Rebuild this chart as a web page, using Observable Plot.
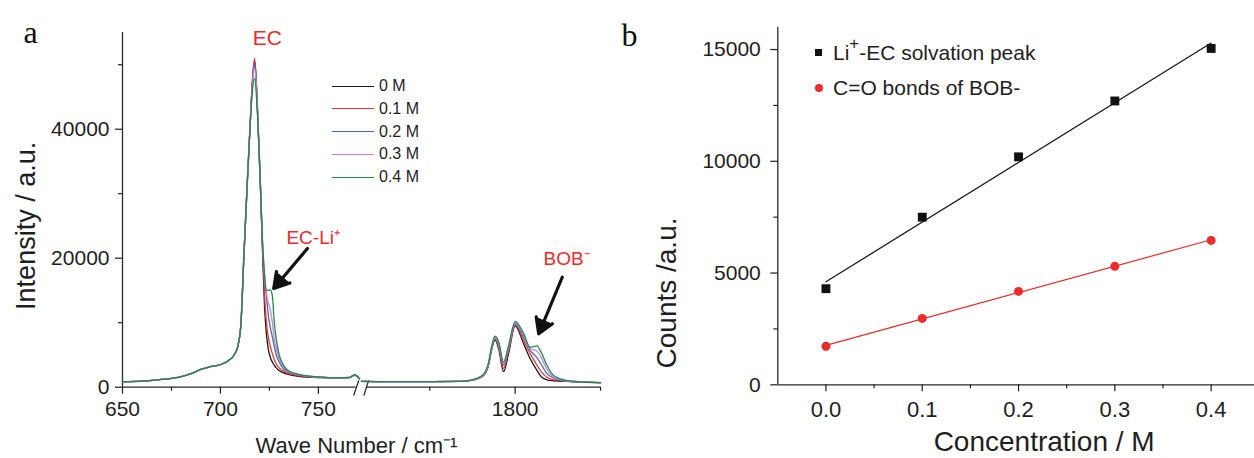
<!DOCTYPE html>
<html><head><meta charset="utf-8">
<script src="https://cdn.jsdelivr.net/npm/d3@7"></script>
<script src="https://cdn.jsdelivr.net/npm/@observablehq/plot@0.6"></script>
<style>
body{margin:0;background:#fff;}
#wrap{position:relative;width:1254px;height:458px;overflow:hidden;background:#fff;font-family:"Liberation Sans",Arial,sans-serif;color:#1e1e1e}
#wrap svg{position:absolute;left:0;top:0}
.row{position:absolute;display:flex;align-items:center;white-space:nowrap}
.row sup{font-size:0.8em;line-height:0;position:relative;top:-0.15em}
</style></head><body><div id="wrap"></div>
<script>
// ---------------- Panel a: Raman spectra ----------------
const wavenumbers = [650,660,670,680,685,690,695,700,704,707,709,710.5,712,713.6,715.3,716.5,717.5,718.7,720.4,721.5,722.5,723.5,724.5,725.5,726.5,727.5,728.5,730,732,735,740,750,760,766,768.5,771,
  1755,1770,1784,1787,1790.5,1792.2,1793.1,1794.1,1795.2,1796.6,1798,1800,1802.5,1804.4,1806.4,1807.8,1809.3,1811.3,1815,1820,1825];
const intensity0M = [850,950,1200,1650,2100,2750,3200,3500,4100,5000,6500,10000,20500,31000,41500,
  48000,50500,44500,31000,21000,12500,8200,5800,4600,3900,3400,3000,2600,2250,1950,1700,1500,1450,1500,1850,1300,
  900,850,900,1050,1700,3400,5800,7300,5900,2400,5000,9500,6700,4400,2600,1550,1150,1000,900,800,700];
const intensity01M = [850,950,1200,1650,2100,2750,3200,3500,4100,5000,6500,10000,20500,31000,41500,
  48500,51000,45000,31500,21500,14500,10000,7600,6300,5200,4300,3600,3000,2500,2100,1800,1550,1450,1500,1900,1300,
  900,850,900,1050,1750,3500,5900,7500,6200,2900,5400,9800,7200,5200,3400,2300,1550,1150,950,800,700];
const intensity02M = [850,950,1200,1650,2100,2750,3200,3500,4100,5000,6500,10000,20500,31000,41500,
  48000,50300,44700,31500,22000,17000,14000,11000,9200,7800,6300,5000,3900,2900,2300,1900,1550,1450,1500,1900,1300,
  900,850,900,1050,1800,3600,6000,7600,6500,3400,5800,9900,7700,5700,4600,3400,2100,1400,950,800,700];
const intensity03M = [850,950,1200,1650,2100,2750,3200,3500,4100,5000,6500,10000,20500,31000,41500,
  47500,49500,44300,31500,22500,17500,14500,13000,12000,10000,7500,6000,4400,3200,2400,1950,1550,1450,1500,1900,1300,
  900,850,900,1050,1800,3600,6100,7700,6700,3700,6000,10000,8000,6000,5600,4400,2800,1550,1000,800,700];
const intensity04M = [850,950,1200,1650,2100,2750,3200,3500,4100,5000,6500,10000,20500,31000,41500,
  46500,47800,43500,31500,22500,17500,15000,15000,15100,14200,10000,7500,5000,3500,2500,2000,1600,1450,1550,1950,1300,
  900,850,900,1100,1900,3800,6300,7900,7000,3900,6300,10200,8300,6200,6400,5200,3400,1800,1050,800,700];
const seriesNames = ["0 M","0.1 M","0.2 M","0.3 M","0.4 M"];
const seriesColors = ["#1a1a1a","#ee3535","#4867ba","#c486cf","#23894a"];
const seriesValues = [intensity0M,intensity01M,intensity02M,intensity03M,intensity04M];

// broken x axis: two segments
const segment1Domain = [650,771];
const segment2Domain = [1755,1825];
const xMajor1 = [650,700,750], xMinor1 = [675,725];
const xMajor2 = [1800], xMinor2 = [1775,1825];
const yMajorA = [0,20000,40000];
const yMinorA = [10000,30000,50000];

// annotations (data coordinates)
const peakLabels = ["EC","EC-Li\u207A","BOB\u207B"];
const peakLabelWn = [724.0,733.7,1808.3];
const peakLabelI = [54100,23200,19950];
const arrowFromWn = [744.4,1813.8], arrowFromI = [21500,17050];
const arrowToWn = [727.2,1806.9], arrowToI = [15300,8280];

// ---------------- Panel b: counts vs concentration ----------------
const concentration = [0,0.1,0.2,0.3,0.4];
const solvationCounts = [4300,7500,10200,12700,15050];
const bobCounts = [1720,2970,4180,5300,6460];
const legendB = ["Li\u207A-EC solvation peak","C=O bonds of BOB-"];
const xMajorB = [0,0.1,0.2,0.3,0.4];
const xMinorB = [0.05,0.15,0.25,0.35];
const yMajorB = [0,5000,10000,15000];
const yMinorB = [2500,7500,12500];

// ---------------- drawing ----------------
const W = 1254, H = 458;
const FONT = "Liberation Sans, Arial, sans-serif";
const SERIF = "Liberation Serif, Times New Roman, serif";
const AX = "#2a2a2a";
const RED = "#ee2a2a";
const wrap = document.getElementById("wrap");
const baseStyle = {background:"transparent", color:"#1e1e1e", fontFamily: FONT, overflow:"visible", maxWidth:"none"};

const spectra = seriesNames.flatMap((name,i)=>wavenumbers.map((wn,j)=>({name, wn, I: seriesValues[i][j]})));
const spectra1 = spectra.filter(d=>d.wn <= segment1Domain[1]);
const spectra2 = spectra.filter(d=>d.wn >= segment2Domain[0]);
const labelRows = peakLabels.map((t,i)=>({t, wn: peakLabelWn[i], I: peakLabelI[i]}));
const arrowRows = arrowFromWn.map((d,i)=>({x1:d, y1:arrowFromI[i], x2:arrowToWn[i], y2:arrowToI[i]}));

function segmentPlot(domain, px0, px1, marks) {
  return Plot.plot({
    width: W, height: H,
    marginLeft: px0, marginRight: W-px1, marginTop: 32, marginBottom: H-386.7,
    style: baseStyle,
    x: {domain, axis: null},
    y: {domain: [0,55000], axis: null},
    color: {domain: seriesNames, range: seriesColors},
    marks
  });
}
const lineOpts = {x:"wn", y:"I", z:"name", stroke:"name", strokeWidth: 1.3, curve:"monotone-x"};
const arrowOpts = {x1:"x1", y1:"y1", x2:"x2", y2:"y2", stroke:"#111", fill:"#111", strokeWidth: 3.2, headLength: 8, headAngle: 62};

const seg1 = segmentPlot(segment1Domain, 122, 359, [
  Plot.ruleX([650], {stroke: AX, strokeWidth: 1.3}),
  Plot.ruleY([0], {x1: 650, x2: 769.3, stroke: AX, strokeWidth: 1.3}),
  Plot.link([0], {x1: ()=>768.0, x2: ()=>770.6, y1: ()=>-1300, y2: ()=>1050, stroke: AX, strokeWidth: 1.3}),
  Plot.axisY({ticks: yMajorA, tickSize: 7, tickPadding: 6, fontSize: 21, tickFormat: d=>String(d), label: null, strokeWidth: 1.2}),
  Plot.axisY({ticks: yMinorA, tickSize: 4, tickFormat: ()=>"", label: null, strokeWidth: 1.2}),
  Plot.axisX({ticks: xMajor1, tickSize: 7, tickPadding: 7, fontSize: 21, tickFormat: d=>String(d), label: null, strokeWidth: 1.2}),
  Plot.axisX({ticks: xMinor1, tickSize: 4, tickFormat: ()=>"", label: null, strokeWidth: 1.2}),
  Plot.line(spectra1, lineOpts),
  Plot.arrow(arrowRows.slice(0,1), arrowOpts),
  Plot.text(labelRows.slice(0,1), {x:"wn", y:"I", text:"t", fill: RED, fontSize: 21, textAnchor:"middle"}),
  Plot.text(labelRows.slice(1,2), {x:"wn", y:"I", text:"t", fill: RED, fontSize: 19, textAnchor:"start"}),
  Plot.text(["Intensity / a.u."], {frameAnchor:"left", textAnchor:"middle", lineAnchor:"middle", rotate:-90, dx:-96, dy:16, fontSize: 27, fill:"#1e1e1e"}),
  Plot.text(["Wave Number / cm\u207B\u00B9"], {frameAnchor:"bottom", textAnchor:"middle", lineAnchor:"middle", dx:115.5, dy:59, fontSize: 22, fill:"#1e1e1e"}),
  Plot.text(["a"], {frameAnchor:"top-left", textAnchor:"middle", lineAnchor:"middle", dx:-92, dy:0.4, fontSize: 32, fontFamily: SERIF, fill:"#111"})
]);
wrap.appendChild(seg1);

const seg2 = segmentPlot(segment2Domain, 361, 600, [
  Plot.ruleY([0], {x1: 1756.4, x2: 1825, stroke: AX, strokeWidth: 1.3}),
  Plot.link([0], {x1: ()=>1755.7, x2: ()=>1757.1, y1: ()=>-1300, y2: ()=>1050, stroke: AX, strokeWidth: 1.3}),
  Plot.axisX({ticks: xMajor2, tickSize: 7, tickPadding: 7, fontSize: 21, tickFormat: d=>String(d), label: null, strokeWidth: 1.2}),
  Plot.axisX({ticks: xMinor2, tickSize: 4, tickFormat: ()=>"", label: null, strokeWidth: 1.2}),
  Plot.line(spectra2, lineOpts),
  Plot.arrow(arrowRows.slice(1), arrowOpts),
  Plot.text(labelRows.slice(2), {x:"wn", y:"I", text:"t", fill: RED, fontSize: 19, textAnchor:"start"})
]);
wrap.appendChild(seg2);

const solvRows = concentration.map((c,i)=>({c, v: solvationCounts[i]}));
const bobRows = concentration.map((c,i)=>({c, v: bobCounts[i]}));

const right = Plot.plot({
  width: W, height: H,
  marginLeft: 777.3, marginRight: 0, marginTop: 26.7, marginBottom: H-384.3,
  style: baseStyle,
  x: {domain: [-0.05,0.45], range: [777.3,1258.8]},
  y: {domain: [0,16000]},
  marks: [
    Plot.ruleX([-0.05], {stroke: AX, strokeWidth: 1.3}),
    Plot.ruleY([0], {stroke: AX, strokeWidth: 1.3}),
    Plot.axisY({ticks: yMajorB, tickSize: 7, tickPadding: 10, fontSize: 21, tickFormat: d=>String(d), label: null, strokeWidth: 1.2}),
    Plot.axisY({ticks: yMinorB, tickSize: 4, tickFormat: ()=>"", label: null, strokeWidth: 1.2}),
    Plot.axisX({ticks: xMajorB, tickSize: 7, tickPadding: 10, fontSize: 22, tickFormat: d3.format(".1f"), label: null, strokeWidth: 1.2}),
    Plot.axisX({ticks: xMinorB, tickSize: 4, tickFormat: ()=>"", label: null, strokeWidth: 1.2}),
    Plot.linearRegressionY(solvRows, {x:"c", y:"v", stroke:"#1a1a1a", strokeWidth: 1.3, ci: 0}),
    Plot.linearRegressionY(bobRows, {x:"c", y:"v", stroke: RED, strokeWidth: 1.2, ci: 0}),
    Plot.dot(solvRows, {x:"c", y:"v", symbol:"square", fill:"#111", r: 5}),
    Plot.dot(bobRows, {x:"c", y:"v", fill: RED, r: 4.5}),
    Plot.text(["Counts /a.u."], {frameAnchor:"left", textAnchor:"middle", lineAnchor:"middle", rotate:-90, dx:-111, dy:87, fontSize: 28, fill:"#1e1e1e"}),
    Plot.text(["Concentration / M"], {frameAnchor:"bottom", textAnchor:"middle", lineAnchor:"middle", dx:28, dy:57.5, fontSize: 28, fill:"#1e1e1e"}),
    Plot.text(["b"], {frameAnchor:"top-left", textAnchor:"middle", lineAnchor:"middle", dx:-148.3, dy:8.7, fontSize: 32, fontFamily: SERIF, fill:"#111"})
  ]
});
wrap.appendChild(right);

// legend panel a
seriesNames.forEach((name,i)=>{
  const row = document.createElement("div");
  row.className = "row";
  row.style.left = "332px";
  row.style.top = (86 + i*22.75 - 8) + "px";
  row.style.height = "16px";
  row.style.fontSize = "16px";
  row.style.lineHeight = "16px";
  row.innerHTML = `<span style="display:inline-block;width:42px;height:0;border-top:1.6px solid ${seriesColors[i]};margin-right:5px"></span><span>${name}</span>`;
  wrap.appendChild(row);
});
// legend panel b
legendB.forEach((name,i)=>{
  const row = document.createElement("div");
  row.className = "row";
  row.style.left = "815px";
  row.style.top = (52 + i*35.5 - 10.5) + "px";
  row.style.height = "21px";
  row.style.fontSize = "21px";
  row.style.lineHeight = "21px";
  const mark = i===0
    ? `<span style="display:inline-block;width:7px;height:7px;background:#111;margin-right:11px"></span>`
    : `<span style="display:inline-block;width:8px;height:8px;border-radius:50%;background:${RED};margin-right:10px"></span>`;
  const label = name.replace("\u207A", "<sup>+</sup>");
  row.innerHTML = mark + `<span>${label}</span>`;
  wrap.appendChild(row);
});
</script></body></html>
